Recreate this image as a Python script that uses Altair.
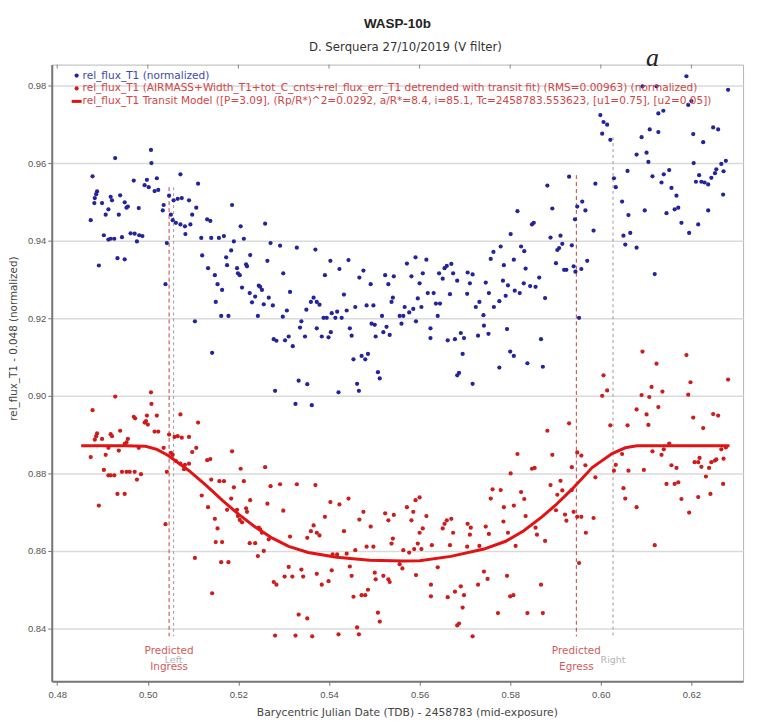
import altair as alt
import pandas as pd

# ---------------- data ----------------
blue_x = [
    0.5007, 0.5008, 0.4928, 0.4878, 0.4969, 0.4998, 0.5020, 0.5072, 0.4993, 0.5002,
    0.5015, 0.5023, 0.4888, 0.4886, 0.4883, 0.4882, 0.4899, 0.4918, 0.4921, 0.4939,
    0.4949, 0.4953, 0.4956, 0.4980, 0.4913, 0.4907, 0.4936, 0.4874, 0.5035, 0.5033,
    0.5047, 0.5057, 0.5066, 0.5075, 0.5091, 0.5051, 0.5055, 0.5062, 0.5072, 0.5082,
    0.5083, 0.4903, 0.4913, 0.4918, 0.4926, 0.4943, 0.4962, 0.4971, 0.4981, 0.4988,
    0.4976, 0.5042, 0.4892, 0.4933, 0.4949, 0.5039,
    0.5111, 0.5107, 0.5098, 0.5094, 0.5186, 0.5131, 0.5138, 0.5205, 0.5259, 0.5118,
    0.5140, 0.5157, 0.5168, 0.5190, 0.5212, 0.5271, 0.5292, 0.5329, 0.5184, 0.5173,
    0.5175, 0.5120, 0.5133, 0.5197, 0.5226, 0.5217, 0.5219, 0.5264, 0.5199, 0.5203,
    0.5148, 0.5154, 0.5164, 0.5208, 0.5245, 0.5248, 0.5252, 0.5299, 0.5225, 0.5237,
    0.5230, 0.5267, 0.5256, 0.5276, 0.5314, 0.5150, 0.5307, 0.5298, 0.5162, 0.5178,
    0.5243, 0.5350, 0.5104, 0.5339, 0.5336, 0.5347, 0.5278, 0.5284, 0.5303, 0.5311,
    0.5320, 0.5142, 0.5333, 0.5352, 0.5281, 0.5326,
    0.5370, 0.5403, 0.5423, 0.5443, 0.5391, 0.5476, 0.5467, 0.5492, 0.5524, 0.5543,
    0.5531, 0.5572, 0.5591, 0.5582, 0.5600, 0.5433, 0.5366, 0.5360, 0.5373, 0.5379,
    0.5458, 0.5439, 0.5418, 0.5406, 0.5483, 0.5498, 0.5541, 0.5538, 0.5596, 0.5604,
    0.5567, 0.5577, 0.5586, 0.5388, 0.5395, 0.5414, 0.5428, 0.5446, 0.5450, 0.5404,
    0.5399, 0.5517, 0.5527, 0.5501, 0.5503, 0.5520, 0.5534, 0.5556, 0.5564, 0.5560,
    0.5592, 0.5373, 0.5384, 0.5494, 0.5454, 0.5472, 0.5480, 0.5486, 0.5508, 0.5512,
    0.5462, 0.5466, 0.5421, 0.5362,
    0.5816, 0.5848, 0.5852, 0.5801, 0.5779, 0.5763, 0.5757, 0.5824, 0.5831, 0.5808,
    0.5834, 0.5786, 0.5615, 0.5607, 0.5618, 0.5631, 0.5655, 0.5660, 0.5670, 0.5651,
    0.5643, 0.5674, 0.5683, 0.5706, 0.5717, 0.5711, 0.5746, 0.5753, 0.5784, 0.5795,
    0.5790, 0.5810, 0.5821, 0.5830, 0.5844, 0.5856, 0.5667, 0.5705, 0.5636, 0.5645,
    0.5640, 0.5732, 0.5724, 0.5741, 0.5764, 0.5776, 0.5624, 0.5624, 0.5662, 0.5678,
    0.5691, 0.5698, 0.5729, 0.5742, 0.5752, 0.5793, 0.5800, 0.5808, 0.5695, 0.5838,
    0.5776, 0.5687, 0.5683, 0.5717,
    0.5999, 0.6006, 0.6014, 0.6003, 0.6021, 0.6059, 0.5930, 0.5882, 0.5988, 0.6029,
    0.6033, 0.6047, 0.6061, 0.5959, 0.5948, 0.5966, 0.5943, 0.5893, 0.5984, 0.5889,
    0.5911, 0.5915, 0.5908, 0.5904, 0.5936, 0.6050, 0.6065, 0.6054, 0.5901, 0.5919,
    0.5924, 0.5940, 0.5944, 0.5957, 0.5970, 0.5864, 0.5877, 0.5952, 0.5868, 0.5872,
    0.6189, 0.6281, 0.6092, 0.6123, 0.6200, 0.6193, 0.6138, 0.6127, 0.6108, 0.6127,
    0.6090, 0.6248, 0.6259, 0.6204, 0.6226, 0.6079, 0.6101, 0.6105, 0.6205, 0.6276,
    0.6266, 0.6271, 0.6255, 0.6252, 0.6114, 0.6139, 0.6151, 0.6134, 0.6156, 0.6167,
    0.6217, 0.6210, 0.6222, 0.6229, 0.6237, 0.6244, 0.6270, 0.6097, 0.6145, 0.6163,
    0.6171, 0.6237, 0.6178, 0.6215, 0.6195, 0.6079, 0.6119,
]
blue_y = [
    0.9634, 0.9600, 0.9613, 0.9566, 0.9555, 0.9557, 0.9561, 0.9571, 0.9543, 0.9538,
    0.9528, 0.9531, 0.9527, 0.9520, 0.9510, 0.9497, 0.9497, 0.9513, 0.9504, 0.9517,
    0.9499, 0.9485, 0.9488, 0.9484, 0.9481, 0.9467, 0.9467, 0.9453, 0.9492, 0.9478,
    0.9516, 0.9504, 0.9508, 0.9510, 0.9504, 0.9467, 0.9453, 0.9446, 0.9442, 0.9437,
    0.9417, 0.9414, 0.9403, 0.9405, 0.9405, 0.9409, 0.9419, 0.9418, 0.9414, 0.9412,
    0.9398, 0.9394, 0.9336, 0.9355, 0.9352, 0.9288,
    0.9547, 0.9485, 0.9467, 0.9442, 0.9492, 0.9455, 0.9451, 0.9437, 0.9444, 0.9407,
    0.9407, 0.9407, 0.9412, 0.9398, 0.9405, 0.9394, 0.9387, 0.9382, 0.9375, 0.9357,
    0.9337, 0.9362, 0.9329, 0.9329, 0.9363, 0.9339, 0.9334, 0.9348, 0.9316, 0.9311,
    0.9311, 0.9288, 0.9273, 0.9279, 0.9284, 0.9281, 0.9273, 0.9316, 0.9265, 0.9256,
    0.9241, 0.9253, 0.9236, 0.9233, 0.9268, 0.9242, 0.9220, 0.9204, 0.9206, 0.9206,
    0.9206, 0.9222, 0.9192, 0.9192, 0.9176, 0.9153, 0.9146, 0.9142, 0.9143, 0.9153,
    0.9128, 0.9111, 0.9039, 0.9030, 0.9013, 0.8979,
    0.9377, 0.9348, 0.9327, 0.9350, 0.9311, 0.9323, 0.9305, 0.9288, 0.9311, 0.9308,
    0.9288, 0.9341, 0.9357, 0.9308, 0.9290, 0.9261, 0.9253, 0.9242, 0.9242, 0.9235,
    0.9229, 0.9220, 0.9217, 0.9213, 0.9233, 0.9233, 0.9253, 0.9242, 0.9251, 0.9229,
    0.9229, 0.9215, 0.9224, 0.9201, 0.9201, 0.9201, 0.9201, 0.9174, 0.9155, 0.9164,
    0.9151, 0.9206, 0.9178, 0.9183, 0.9153, 0.9164, 0.9157, 0.9206, 0.9206, 0.9186,
    0.9192, 0.9174, 0.9153, 0.9186, 0.9094, 0.9103, 0.9094, 0.9108, 0.9061, 0.9045,
    0.9031, 0.9013, 0.9009, 0.8976,
    0.9476, 0.9442, 0.9446, 0.9417, 0.9385, 0.9371, 0.9353, 0.9385, 0.9373, 0.9351,
    0.9328, 0.9337, 0.9351, 0.9316, 0.9265, 0.9265, 0.9329, 0.9335, 0.9340, 0.9302,
    0.9316, 0.9316, 0.9297, 0.9318, 0.9313, 0.9290, 0.9292, 0.9265, 0.9297, 0.9285,
    0.9258, 0.9271, 0.9265, 0.9290, 0.9283, 0.9281, 0.9262, 0.9263, 0.9238, 0.9238,
    0.9206, 0.9242, 0.9229, 0.9208, 0.9229, 0.9244, 0.9174, 0.9149, 0.9143, 0.9146,
    0.9162, 0.9149, 0.9155, 0.9181, 0.9160, 0.9172, 0.9114, 0.9103, 0.9108, 0.9084,
    0.9073, 0.9059, 0.9053, 0.9031,
    0.9724, 0.9706, 0.9699, 0.9676, 0.9660, 0.9580, 0.9565, 0.9542, 0.9547, 0.9561,
    0.9538, 0.9501, 0.9466, 0.9501, 0.9488, 0.9478, 0.9455, 0.9483, 0.9426, 0.9408,
    0.9413, 0.9392, 0.9381, 0.9376, 0.9388, 0.9413, 0.9420, 0.9390, 0.9342, 0.9325,
    0.9325, 0.9334, 0.9320, 0.9327, 0.9348, 0.9305, 0.9252, 0.9201, 0.9146, 0.9075,
    0.9824, 0.9789, 0.9798, 0.9798, 0.9760, 0.9750, 0.9735, 0.9728, 0.9687, 0.9680,
    0.9667, 0.9692, 0.9687, 0.9675, 0.9654, 0.9622, 0.9627, 0.9603, 0.9600, 0.9606,
    0.9598, 0.9579, 0.9584, 0.9574, 0.9566, 0.9571, 0.9582, 0.9550, 0.9536, 0.9516,
    0.9569, 0.9552, 0.9552, 0.9550, 0.9545, 0.9562, 0.9519, 0.9478, 0.9471, 0.9481,
    0.9485, 0.9478, 0.9446, 0.9442, 0.9420, 0.9382, 0.9314,
]

red_x = [
    0.4928, 0.5007, 0.5008, 0.4878, 0.4969, 0.4972, 0.4998, 0.4996, 0.5020, 0.5072,
    0.4993, 0.5000, 0.5015, 0.5023, 0.4888, 0.4886, 0.4883, 0.4899, 0.4918, 0.4921,
    0.4939, 0.4949, 0.4953, 0.4956, 0.4980, 0.4913, 0.4907, 0.4874, 0.4936, 0.5035,
    0.5047, 0.5059, 0.5066, 0.5075, 0.5091, 0.5051, 0.5055, 0.5062, 0.5072, 0.5082,
    0.5080, 0.4903, 0.4913, 0.4918, 0.4926, 0.4943, 0.4953, 0.4960, 0.4971, 0.4985,
    0.4976, 0.5042, 0.4892, 0.4933, 0.4949, 0.5039,
    0.5111, 0.5107, 0.5098, 0.5091, 0.5186, 0.5131, 0.5138, 0.5205, 0.5259, 0.5119,
    0.5140, 0.5158, 0.5168, 0.5190, 0.5212, 0.5271, 0.5292, 0.5329, 0.5184, 0.5175,
    0.5133, 0.5197, 0.5226, 0.5217, 0.5219, 0.5264, 0.5199, 0.5203, 0.5148, 0.5154,
    0.5164, 0.5208, 0.5245, 0.5248, 0.5252, 0.5299, 0.5225, 0.5237, 0.5243, 0.5267,
    0.5256, 0.5314, 0.5150, 0.5162, 0.5178, 0.5104, 0.5311, 0.5302, 0.5319, 0.5339,
    0.5343, 0.5278, 0.5284, 0.5142, 0.5333, 0.5352, 0.5281, 0.5326,
    0.5370, 0.5403, 0.5423, 0.5443, 0.5391, 0.5476, 0.5467, 0.5492, 0.5524, 0.5543,
    0.5531, 0.5572, 0.5591, 0.5582, 0.5600, 0.5433, 0.5366, 0.5360, 0.5373, 0.5379,
    0.5352, 0.5458, 0.5439, 0.5418, 0.5408, 0.5483, 0.5498, 0.5541, 0.5538, 0.5596,
    0.5604, 0.5564, 0.5577, 0.5588, 0.5373, 0.5384, 0.5399, 0.5406, 0.5446, 0.5450,
    0.5501, 0.5503, 0.5520, 0.5531, 0.5534, 0.5556, 0.5562, 0.5592, 0.5454, 0.5472,
    0.5480, 0.5486, 0.5508, 0.5512, 0.5462, 0.5466, 0.5421, 0.5363, 0.5600, 0.5586,
    0.5816, 0.5848, 0.5854, 0.5801, 0.5761, 0.5779, 0.5757, 0.5824, 0.5831, 0.5808,
    0.5834, 0.5786, 0.5615, 0.5607, 0.5655, 0.5660, 0.5670, 0.5651, 0.5674, 0.5706,
    0.5713, 0.5711, 0.5746, 0.5753, 0.5785, 0.5795, 0.5856, 0.5859, 0.5627, 0.5667,
    0.5705, 0.5732, 0.5812, 0.5640, 0.5742, 0.5750, 0.5625, 0.5625, 0.5662, 0.5678,
    0.5691, 0.5698, 0.5729, 0.5793, 0.5800, 0.5807, 0.5695, 0.5687, 0.5683, 0.5773,
    0.5838, 0.5717,
    0.6006, 0.6003, 0.6014, 0.5930, 0.5882, 0.6021, 0.6059, 0.5893, 0.5948, 0.5957,
    0.5966, 0.5936, 0.6033, 0.6029, 0.6061, 0.6047, 0.5988, 0.5889, 0.5911, 0.5915,
    0.5904, 0.5936, 0.6050, 0.6054, 0.5901, 0.5921, 0.5924, 0.5940, 0.5948, 0.5957,
    0.5984, 0.5877, 0.5967, 0.5952, 0.5868, 0.5872,
    0.6092, 0.6123, 0.6189, 0.6198, 0.6193, 0.6281, 0.6112, 0.6136, 0.6090, 0.6107,
    0.6127, 0.6079, 0.6101, 0.6105, 0.6204, 0.6226, 0.6248, 0.6259, 0.6114, 0.6134,
    0.6139, 0.6151, 0.6095, 0.6266, 0.6276, 0.6271, 0.6255, 0.6252, 0.6244, 0.6239,
    0.6218, 0.6215, 0.6222, 0.6207, 0.6156, 0.6167, 0.6145, 0.6163, 0.6171, 0.6232,
    0.6270, 0.6178, 0.6215, 0.6242, 0.6195, 0.6079, 0.6119,
]
red_y = [
    0.8998, 0.9009, 0.8979, 0.8963, 0.8946, 0.8942, 0.8949, 0.8935, 0.8949, 0.8952,
    0.8931, 0.8926, 0.8908, 0.8908, 0.8903, 0.8896, 0.8887, 0.8889, 0.8901, 0.8896,
    0.8910, 0.8876, 0.8880, 0.8889, 0.8866, 0.8866, 0.8848, 0.8842, 0.8859, 0.8866,
    0.8900, 0.8894, 0.8896, 0.8892, 0.8894, 0.8853, 0.8848, 0.8832, 0.8825, 0.8822,
    0.8811, 0.8809, 0.8795, 0.8795, 0.8795, 0.8804, 0.8804, 0.8804, 0.8804, 0.8798,
    0.8784, 0.8804, 0.8717, 0.8747, 0.8747, 0.8669,
    0.8931, 0.8866, 0.8855, 0.8825, 0.8857, 0.8834, 0.8837, 0.8812, 0.8816, 0.8743,
    0.8784, 0.8780, 0.8780, 0.8764, 0.8780, 0.8767, 0.8772, 0.8772, 0.8735, 0.8706,
    0.8713, 0.8706, 0.8731, 0.8710, 0.8701, 0.8722, 0.8690, 0.8680, 0.8683, 0.8658,
    0.8623, 0.8674, 0.8660, 0.8656, 0.8647, 0.8704, 0.8620, 0.8620, 0.8587, 0.8630,
    0.8600, 0.8637, 0.8623, 0.8571, 0.8571, 0.8582, 0.8559, 0.8534, 0.8534, 0.8552,
    0.8534, 0.8520, 0.8513, 0.8491, 0.8436, 0.8426, 0.8382, 0.8382,
    0.8770, 0.8726, 0.8720, 0.8735, 0.8688, 0.8701, 0.8681, 0.8663, 0.8697, 0.8693,
    0.8679, 0.8713, 0.8731, 0.8679, 0.8647, 0.8651, 0.8666, 0.8651, 0.8647, 0.8640,
    0.8634, 0.8602, 0.8593, 0.8591, 0.8591, 0.8611, 0.8611, 0.8632, 0.8619, 0.8619,
    0.8605, 0.8602, 0.8596, 0.8605, 0.8541, 0.8513, 0.8522, 0.8550, 0.8560, 0.8536,
    0.8544, 0.8527, 0.8536, 0.8527, 0.8520, 0.8566, 0.8555, 0.8538, 0.8482, 0.8486,
    0.8486, 0.8500, 0.8441, 0.8418, 0.8403, 0.8385, 0.8385, 0.8380, 0.8738, 0.8701,
    0.8850, 0.8812, 0.8814, 0.8800, 0.8759, 0.8757, 0.8735, 0.8752, 0.8734, 0.8717,
    0.8690, 0.8713, 0.8690, 0.8658, 0.8670, 0.8679, 0.8683, 0.8658, 0.8647, 0.8670,
    0.8660, 0.8642, 0.8663, 0.8644, 0.8676, 0.8647, 0.8660, 0.8642, 0.8615, 0.8615,
    0.8611, 0.8613, 0.8613, 0.8558, 0.8547, 0.8528, 0.8513, 0.8483, 0.8481, 0.8495,
    0.8509, 0.8486, 0.8513, 0.8536, 0.8483, 0.8486, 0.8454, 0.8413, 0.8408, 0.8440,
    0.8440, 0.8380,
    0.9053, 0.9000, 0.9014, 0.8929, 0.8910, 0.8924, 0.8924, 0.8848, 0.8854, 0.8846,
    0.8821, 0.8816, 0.8822, 0.8807, 0.8807, 0.8850, 0.8790, 0.8770, 0.8781, 0.8756,
    0.8745, 0.8757, 0.8762, 0.8735, 0.8705, 0.8694, 0.8678, 0.8701, 0.8688, 0.8688,
    0.8685, 0.8626, 0.8647, 0.8569, 0.8513, 0.8440,
    0.9114, 0.9083, 0.9105, 0.9035, 0.9003, 0.9042, 0.9023, 0.9011, 0.9002, 0.8997,
    0.8971, 0.8965, 0.8952, 0.8925, 0.8944, 0.8917, 0.8953, 0.8949, 0.8857, 0.8848,
    0.8862, 0.8877, 0.8809, 0.8862, 0.8867, 0.8838, 0.8836, 0.8833, 0.8829, 0.8814,
    0.8840, 0.8829, 0.8817, 0.8829, 0.8821, 0.8814, 0.8773, 0.8773, 0.8777, 0.8792,
    0.8773, 0.8734, 0.8739, 0.8747, 0.8699, 0.8713, 0.8615,
]

model_x = [0.4853, 0.4950, 0.4995, 0.5020, 0.5045, 0.5070, 0.5091, 0.5130, 0.5164,
           0.5200, 0.5237, 0.5275, 0.5311, 0.5354, 0.5417, 0.5490, 0.5564, 0.5600,
           0.5669, 0.5742, 0.5790, 0.5830, 0.5870, 0.5900, 0.5937, 0.5981, 0.6025,
           0.6054, 0.6080, 0.6200, 0.6284]
model_y = [0.8871, 0.8871, 0.8870, 0.8862, 0.8846, 0.8825, 0.8807, 0.8768, 0.8731,
           0.8695, 0.8662, 0.8633, 0.8612, 0.8596, 0.8584, 0.8576, 0.8574, 0.8575,
           0.8586, 0.8605, 0.8625, 0.8652, 0.8688, 0.8718, 0.8760, 0.8815, 0.8851,
           0.8866, 0.8871, 0.8871, 0.8871]

x_ticks = [0.48, 0.50, 0.52, 0.54, 0.56, 0.58, 0.60, 0.62]
y_ticks = [0.84, 0.86, 0.88, 0.90, 0.92, 0.94, 0.96, 0.98]
x_domain = [0.4788, 0.6314]
y_domain = [0.8264, 0.9854]

# vertical marker lines: x, top, bottom
red_marker_x = [0.5047, 0.5946]
red_marker_top = [0.9538, 0.9569]
gray_marker_x = [0.5057, 0.6027]
gray_marker_top = [0.9538, 0.9667]
marker_bottom = 0.8380

red_label_text = ["Predicted", "Ingress", "Predicted", "Egress"]
red_label_x = [0.5047, 0.5047, 0.5946, 0.5946]
red_label_y = [0.8341, 0.8300, 0.8341, 0.8300]
gray_label_text = ["Left", "Right"]
gray_label_x = [0.5057, 0.6027]
gray_label_y = [0.8318, 0.8318]

chart_title = "WASP-10b"
chart_subtitle = "D. Serquera 27/10/2019 (V filter)"
x_title = "Barycentric Julian Date (TDB) - 2458783 (mid-exposure)"
y_title = "rel_flux_T1 - 0.048 (normalized)"
legend_labels = [
    "rel_flux_T1 (normalized)",
    "rel_flux_T1 (AIRMASS+Width_T1+tot_C_cnts+rel_flux_err_T1 detrended with transit fit) (RMS=0.00963) (normalized)",
    "rel_flux_T1 Transit Model ([P=3.09], (Rp/R*)^2=0.0292, a/R*=8.4, i=85.1, Tc=2458783.553623, [u1=0.75], [u2=0.05])",
]
panel_letter = "a"

# ---------------- styling ----------------
FONT = "Liberation Sans"
WIDE = "DejaVu Sans"
BLUE = "#23239c"
RED = "#cc1c1c"
MODEL_RED = "#e01414"
LABEL_RED = "#d45a5a"
GRAY = "#9a9a9a"

W, H = 695, 620

xscale = alt.Scale(domain=x_domain, nice=False, zero=False)
yscale = alt.Scale(domain=y_domain, nice=False, zero=False)

xaxis = alt.Axis(values=x_ticks, format=".2f", grid=False, tickSize=4,
                 labelFont=FONT, labelFontSize=9.5, labelColor="#555555",
                 labelPadding=4, titleFont=WIDE, titleFontSize=10.8,
                 titleFontWeight="normal", titleColor="#444444",
                 titleX=357, titleY=25, domainColor="#777777", domainWidth=2,
                 tickColor="#777777")
yaxis = alt.Axis(values=y_ticks, format=".2f", grid=True, gridColor="#dadada",
                 gridWidth=1.5, tickSize=4, labelFont=FONT, labelFontSize=9.5,
                 labelColor="#555555", labelPadding=2, titleFont=WIDE,
                 titleFontSize=10.4, titleFontWeight="normal", titleColor="#444444",
                 titleX=-33, titleY=275, domainColor="#777777", domainWidth=2,
                 tickColor="#777777")


def X(field):
    return alt.X(field, type="quantitative", scale=xscale, axis=xaxis, title=x_title)


def Y(field):
    return alt.Y(field, type="quantitative", scale=yscale, axis=yaxis, title=y_title)


blue_df = pd.DataFrame({"x": blue_x, "y": blue_y})
red_df = pd.DataFrame({"x": red_x, "y": red_y})
model_df = pd.DataFrame({"x": model_x, "y": model_y})

blue_pts = alt.Chart(blue_df).mark_circle(size=18, color=BLUE, opacity=1).encode(x=X("x"), y=Y("y"))
red_pts = alt.Chart(red_df).mark_circle(size=18, color=RED, opacity=1).encode(x=X("x"), y=Y("y"))
model_line = alt.Chart(model_df).mark_line(color=MODEL_RED, strokeWidth=3).encode(x=X("x"), y=Y("y"))

gray_rules = alt.Chart(pd.DataFrame({"x": gray_marker_x, "top": gray_marker_top,
                                     "bot": [marker_bottom] * len(gray_marker_x)})).mark_rule(
    color=GRAY, strokeDash=[3, 3], strokeWidth=1).encode(x=X("x"), y=Y("top"), y2="bot:Q")
red_rules = alt.Chart(pd.DataFrame({"x": red_marker_x, "top": red_marker_top,
                                    "bot": [marker_bottom] * len(red_marker_x)})).mark_rule(
    color="#c84040", strokeDash=[4, 3], strokeWidth=1).encode(x=X("x"), y=Y("top"), y2="bot:Q")

gray_labels = alt.Chart(pd.DataFrame({"x": gray_label_x, "y": gray_label_y, "t": gray_label_text})).mark_text(
    font=WIDE, fontSize=9.5, color="#b4b4b4", baseline="middle", align="center").encode(x=X("x"), y=Y("y"), text="t:N")
red_labels = alt.Chart(pd.DataFrame({"x": red_label_x, "y": red_label_y, "t": red_label_text})).mark_text(
    font=WIDE, fontSize=10.5, color=LABEL_RED, baseline="middle", align="center").encode(x=X("x"), y=Y("y"), text="t:N")

one = pd.DataFrame({"t": [0]})
leg_rows = [11, 24, 37]
leg_colors = ["#3c48b0", "#d04646", "#d04646"]
legend_layers = []
for i, lab in enumerate(legend_labels):
    legend_layers.append(
        alt.Chart(pd.DataFrame({"t": [lab]})).mark_text(
            font=WIDE, fontSize=10.6, color=leg_colors[i], align="left", baseline="middle").encode(
            x=alt.value(31), y=alt.value(leg_rows[i]), text="t:N"))
legend_layers.append(alt.Chart(one).mark_circle(size=18, color=BLUE, opacity=1).encode(
    x=alt.value(25), y=alt.value(leg_rows[0])))
legend_layers.append(alt.Chart(one).mark_circle(size=18, color=RED, opacity=1).encode(
    x=alt.value(25), y=alt.value(leg_rows[1])))
legend_layers.append(alt.Chart(one).mark_rule(color=MODEL_RED, strokeWidth=3).encode(
    x=alt.value(20), x2=alt.value(30), y=alt.value(leg_rows[2])))

letter = alt.Chart(pd.DataFrame({"t": [panel_letter]})).mark_text(
    font="Liberation Serif", fontStyle="italic", fontSize=26, color="#222222",
    baseline="middle", align="center").encode(x=alt.value(604), y=alt.value(-7), text="t:N")

title_mark = alt.Chart(pd.DataFrame({"t": [chart_title]})).mark_text(
    font=FONT, fontSize=13.5, fontWeight="bold", color="#222222",
    baseline="middle", align="center").encode(x=alt.value(W / 2), y=alt.value(-41), text="t:N")
subtitle_mark = alt.Chart(pd.DataFrame({"t": [chart_subtitle]})).mark_text(
    font=WIDE, fontSize=11.8, color="#333333",
    baseline="middle", align="center").encode(x=alt.value(W / 2 + 8), y=alt.value(-18), text="t:N")

top_ticks = alt.Chart(pd.DataFrame({"x": x_ticks})).mark_rule(color="#888888", strokeWidth=1).encode(
    x=X("x"), y=alt.value(0), y2=alt.value(4))

chart = alt.layer(
    gray_rules, red_rules, blue_pts, red_pts, model_line,
    gray_labels, red_labels, top_ticks, letter, title_mark, subtitle_mark, *legend_layers
).properties(
    width=W, height=H,
    autosize=alt.AutoSizeParams(type="none"),
    padding={"left": 44, "top": 55, "right": 10, "bottom": 36},
).configure_view(stroke="#b5b5b5", strokeWidth=1)

chart.save("out.html", embed_options={"renderer": "svg", "actions": False})
